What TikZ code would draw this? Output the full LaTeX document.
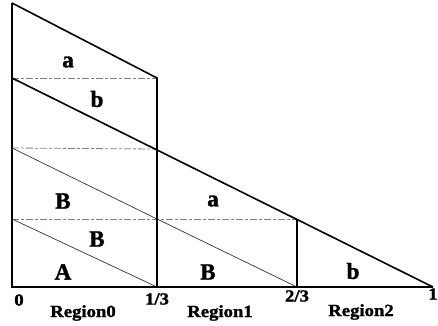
\documentclass[tikz,border=0pt]{standalone}
\usepackage{fontspec}
\setmainfont{Liberation Serif}
\newfontfamily\bigfont[FakeBold=1.5]{Liberation Serif Bold}
\newfontfamily\lblfont[FakeStretch=1.1,FakeBold=1.5]{Liberation Serif Bold}
\begin{document}
\begin{tikzpicture}[x=1pt,y=-1pt,
  solidline/.style={line width=1.6pt,black},
  dashline/.style={line width=0.8pt,gray,dash pattern=on 7pt off 2pt on 3pt off 2pt},
  thinline/.style={line width=0.7pt,black!80},
  biglbl/.style={font=\bigfont\fontsize{23}{23}\selectfont},
  axlbl/.style={font=\lblfont\fontsize{17}{17}\selectfont}]
\useasboundingbox (0,0) rectangle (438,325);
\coordinate (A0) at (12,287);
\coordinate (T) at (12,3);
\coordinate (T1) at (157,78);
\coordinate (L3) at (12,78);
\coordinate (L2) at (12,148);
\coordinate (L1) at (12,219);
\coordinate (M2) at (157,149);
\coordinate (M1) at (157,219);
\coordinate (M0) at (157,287);
\coordinate (N1) at (297,219);
\coordinate (N0) at (297,287);
\coordinate (E) at (433,287);
% dashed horizontals
\draw[dashline] (L3) -- (T1);
\draw[dashline] (L2) -- (M2);
\draw[dashline] (L1) -- (N1);
% thin diagonals
\draw[thinline] (L2) -- (M1) -- (N0);
\draw[thinline] (L1) -- (M0);
% solid lines
\draw[solidline] (T) -- (A0) -- (E);
\draw[solidline] (T) -- (T1) -- (M0);
\draw[solidline] (L3) -- (E);
\draw[solidline] (N1) -- (N0);
% labels
\node[biglbl] (la) at (68,62) {a};
\node[biglbl] (lb) at (97,99) {b};
\node[biglbl] (lB1) at (63,201) {B};
\node[biglbl] (lB2) at (97,239) {B};
\node[biglbl] (lA) at (63,272) {A};
\node[biglbl] (lB3) at (208,272) {B};
\node[biglbl] (la2) at (213,201) {a};
\node[biglbl] (lb2) at (353,271) {b};
\node[axlbl] (x0) at (19,300) {0};
\node[axlbl] (x1) at (157,299) {1/3};
\node[axlbl] (x2) at (297,296) {2/3};
\node[axlbl] (x3) at (433,294) {1};
\node[axlbl] (r0) at (83,313) {Region0};
\node[axlbl] (r1) at (220,313) {Region1};
\node[axlbl] (r2) at (361,312) {Region2};
\end{tikzpicture}
\end{document}
